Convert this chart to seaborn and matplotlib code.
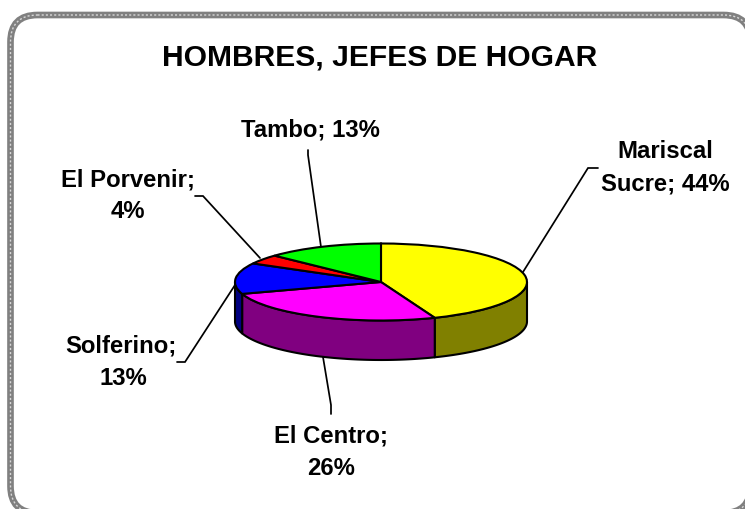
import numpy as np
import matplotlib
matplotlib.use("Agg")
import matplotlib.pyplot as plt
from matplotlib.patches import FancyBboxPatch
import seaborn as sns

# ---- data ----
title = "HOMBRES, JEFES DE HOGAR"
categories = ["Mariscal Sucre", "El Centro", "Solferino", "El Porvenir", "Tambo"]
values = [44, 26, 13, 4, 13]
top_colors = ["#FFFF00", "#FF00FF", "#0000FF", "#FF0000", "#00FF00"]
side_colors = ["#808000", "#800080", "#000080", "#800000", "#008000"]

# ---- layout (pixels of the 745x509 picture) ----
W, H = 745, 509
CX, CY, RX, RY, DEPTH = 381, 282, 146, 38.5, 39.5
label_lines = [
    [("Mariscal", 665, 158), ("Sucre; {}%", 665, 191)],
    [("El Centro;", 331, 443), ("{}%", 331, 475)],
    [("Solferino;", 121, 353), ("{}%", 123, 385)],
    [("El Porvenir;", 128, 187), ("{}%", 128, 218)],
    [("Tambo; {}%", 310, 137)],
]
leaders = [
    ([523, 588, 598], [272, 168, 168]),
    ([323, 331, 331], [357, 405, 414]),
    ([235, 185, 177], [285, 362, 362]),
    ([260, 203, 195], [258, 196, 196]),
    ([321, 308, 308], [247, 155, 150]),
]

sns.set_theme(style="white")
plt.rcParams["font.family"] = ["Liberation Sans", "DejaVu Sans"]
plt.rcParams["font.weight"] = "bold"

fig = plt.figure(figsize=(W / 100, H / 100), dpi=100, facecolor="white")

# Overlay in pixel coordinates: frame, title, labels, leader lines
bg = fig.add_axes([0, 0, 1, 1])
bg.set_xlim(0, W)
bg.set_ylim(H, 0)
bg.axis("off")
BOX = dict(boxstyle="round,pad=0,rounding_size=27")
# a (nearly invisible) face keeps the renderer from cutting the stroked path at the canvas edge
bg.add_patch(FancyBboxPatch((10.5, 15), 740, 498, ec="#808080", fc="white", lw=4.8, **BOX))
bg.add_patch(FancyBboxPatch((10.5, 15), 740, 498, ec="#d8d8d8", fc=(1, 1, 1, 0.004), lw=1.0,
                            ls=(0, (1.5, 1.5)), **BOX))

bg.text(380, 65, title, ha="center", va="baseline", fontsize=21.6,
        fontweight="bold", color="black")
for lines, val in zip(label_lines, values):
    for txt, x, y in lines:
        bg.text(x, y, txt.format(val), ha="center", va="baseline", fontsize=17.2,
                fontweight="bold", color="black")
for xs, ys in leaders:
    bg.plot(xs, ys, color="black", lw=1.25, solid_joinstyle="miter")

# Pie: unit-radius pie squashed into the ellipse by the axes box
XL, YL = 1.25, 1.25
ax = fig.add_axes([(CX - RX * XL) / W, 1 - (CY + RY * YL) / H,
                   2 * RX * XL / W, 2 * RY * YL / H])
ax.patch.set_alpha(0)
depth = DEPTH / RY
edge = dict(edgecolor="black", linewidth=1.5)

# side walls: clockwise angle from the top, front half only
fractions = np.cumsum([0] + values) / np.sum(values) * 2 * np.pi
for i, col in enumerate(side_colors):
    a0, a1 = max(fractions[i], np.pi / 2), min(fractions[i + 1], 3 * np.pi / 2)
    if a1 <= a0:
        continue
    t = np.linspace(a0, a1, 80)
    x, y = np.sin(t), np.cos(t)
    ax.fill(np.r_[x, x[::-1]], np.r_[y, y[::-1] - depth], facecolor=col,
            clip_on=False, joinstyle="round", **edge)

ax.pie(values, colors=top_colors, startangle=90, counterclock=False, radius=1,
       wedgeprops=dict(clip_on=False, **edge))
ax.set_aspect("auto")
ax.set_xlim(-XL, XL)
ax.set_ylim(-YL, YL)

fig.savefig("out.png", dpi=100)
